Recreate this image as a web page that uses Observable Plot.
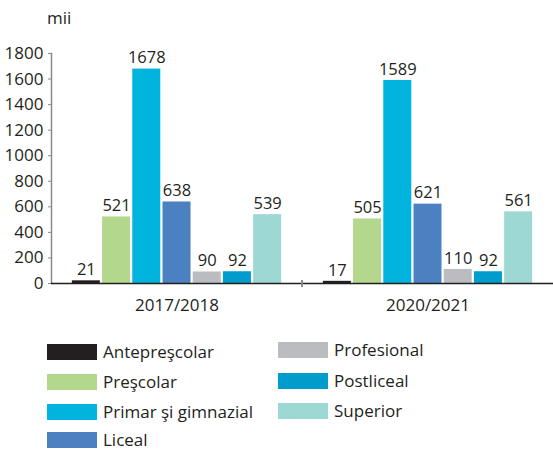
<!DOCTYPE html>
<html>
<head>
<meta charset="utf-8">
<script src="https://cdn.jsdelivr.net/npm/d3@7"></script>
<script src="https://cdn.jsdelivr.net/npm/@observablehq/plot@0.6"></script>
<style>
  body { margin: 0; background: #fff; font-family: "Open Sans", sans-serif; color: #231f20; }
  #wrap { position: relative; width: 553px; height: 450px; overflow: hidden; }
  #unit { position: absolute; left: 47px; top: 6px; font-size: 17px; line-height: 24px; }
  #chart { position: absolute; left: 0; top: 36px; }
  .lg { position: absolute; display: flex; align-items: center; font-size: 17px; line-height: 18px; height: 18px; white-space: nowrap; }
  .lg span.sw { display: inline-block; width: 50px; height: 16px; margin-right: 6px; }
</style>
</head>
<body>
<div id="wrap">
  <div id="unit">mii</div>
  <div id="chart"></div>
  <div id="legend"></div>
</div>
<script>
const years = ["2017/2018", "2020/2021"];
const categories = ["Antepreşcolar", "Preşcolar", "Primar şi gimnazial", "Liceal", "Profesional", "Postliceal", "Superior"];
const colors = ["#231f20", "#b3d78c", "#00b4de", "#4b80c1", "#bbbcc0", "#009dcc", "#9ed8d4"];
const values2017 = [21, 521, 1678, 638, 90, 92, 539];
const values2020 = [17, 505, 1589, 621, 110, 92, 561];
const yTicks = [0, 200, 400, 600, 800, 1000, 1200, 1400, 1600, 1800];

const series = [values2017, values2020];
const data = years.flatMap((yr, j) => categories.map((c, i) => ({year: yr, cat: c, value: series[j][i]})));

const plot = Plot.plot({
  width: 553,
  height: 290,
  marginLeft: 51,
  marginRight: 0,
  marginTop: 17,
  marginBottom: 43,
  style: {fontFamily: "Open Sans, sans-serif", fontSize: "16px", color: "#231f20", background: "transparent"},
  fx: {domain: years, padding: 0, round: false, label: null},
  x: {domain: categories, paddingInner: 0.073, paddingOuter: 0.69, round: false, axis: null},
  y: {domain: [0, 1800], label: null},
  color: {domain: categories, range: colors},
  marks: [
    Plot.frame({anchor: "left", facetAnchor: "left", stroke: "#8a8a8a", strokeWidth: 1.5}),
    Plot.axisY({ticks: yTicks, tickSize: 3, tickPadding: 5, stroke: "#8a8a8a", fill: "#231f20", fontSize: 17, label: null, tickFormat: d => String(d)}),
    Plot.axisFx({anchor: "bottom", tickSize: 0, tickPadding: 15, fontSize: 17, label: null}),
    Plot.barY(data, {fx: "year", x: "cat", y: "value", fill: "cat"}),
    Plot.text(data, {fx: "year", x: "cat", y: "value", text: d => String(d.value), dy: -11, fontSize: 16.5, fill: "#231f20"}),
    Plot.ruleY([0], {stroke: "#231f20", strokeWidth: 1.3})
  ]
});
document.getElementById("chart").appendChild(plot);

// separator tick between the two groups, positioned through Plot's scales
const fx = plot.scale("fx"), y = plot.scale("y");
const xb = fx.apply(years[1]);
const y0 = y.apply(0);
d3.select(plot).append("line")
  .attr("x1", xb).attr("x2", xb)
  .attr("y1", y0 - 3).attr("y2", y0 + 4)
  .attr("stroke", "#8a8a8a").attr("stroke-width", 2);

// legend
const legendPos = [
  [47, 352], [47, 382], [47, 412], [47, 440],
  [278, 350], [278, 381], [278, 411]
];
const legend = document.getElementById("legend");
categories.forEach((c, i) => {
  const d = document.createElement("div");
  d.className = "lg";
  d.style.left = legendPos[i][0] + "px";
  d.style.top = (legendPos[i][1] - 9) + "px";
  d.innerHTML = `<span class="sw" style="background:${colors[i]}"></span><span>${c}</span>`;
  legend.appendChild(d);
});
</script>
</body>
</html>
